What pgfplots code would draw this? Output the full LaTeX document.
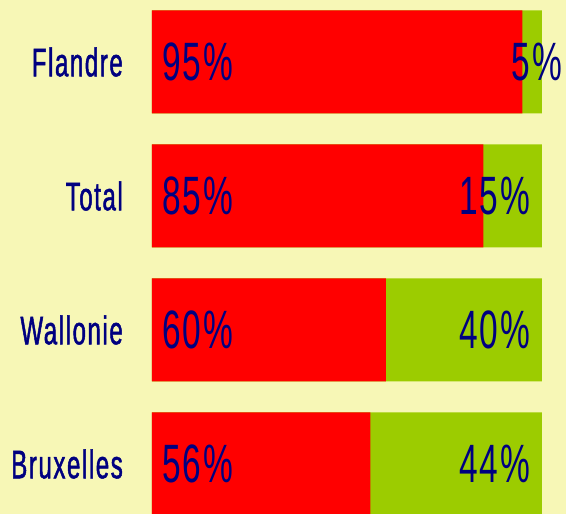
\documentclass[border=0pt]{standalone}
\usepackage{fontspec}
\setmainfont{Liberation Sans}[FakeStretch=0.62, LetterSpace=4]
\newfontfamily\catfont{Liberation Sans}[FakeStretch=0.6, FakeBold=1.2, LetterSpace=4]
\usepackage{pgfplots}
\pgfplotsset{compat=1.18}
\definecolor{bg}{HTML}{F7F7B6}
\definecolor{bred}{HTML}{FF0000}
\definecolor{bgreen}{HTML}{9CCC00}
\definecolor{navy}{HTML}{000080}
\begin{document}
\begin{tikzpicture}[x=1pt,y=1pt]
\fill[bg] (0,0) rectangle (566,514);
\useasboundingbox (0,0) rectangle (566,514);
\begin{axis}[
  at={(152pt,-17pt)}, anchor=south west,
  width=390pt, height=536pt, scale only axis,
  xmin=0, xmax=100, ymin=-0.5, ymax=3.5,
  axis line style={draw=none},
  tick style={draw=none},
  xtick=\empty, ytick={0,1,2,3},
  yticklabels={Bruxelles,Wallonie,Total,Flandre},
  major tick length=0pt,
  yticklabel style={font=\catfont\fontsize{40}{48}\selectfont, text=navy, anchor=east, inner sep=0pt, xshift=-29pt},
  clip=false,
  bar width=103pt,
]
\addplot[xbar, bar shift=0pt, fill=bgreen, draw=none] coordinates {(100,0) (100,1) (100,2) (100,3)};
\addplot[xbar, bar shift=0pt, fill=bred, draw=none] coordinates {(56,0) (60,1) (85,2) (95,3)};
\addplot[draw=none, mark=none, nodes near coords={\pgfplotspointmeta\%}, point meta=explicit symbolic,
  nodes near coords style={anchor=west, inner sep=0pt, text=navy, font=\fontsize{54}{60}\selectfont}]
  table[meta=lab] {
x y lab
2.56 0 56
2.56 1 60
2.56 2 85
2.56 3 95
};
\addplot[draw=none, mark=none, nodes near coords={\pgfplotspointmeta\%}, point meta=explicit symbolic,
  nodes near coords style={anchor=east, inner sep=0pt, text=navy, font=\fontsize{54}{60}\selectfont}]
  table[meta=lab] {
x y lab
97.1 0 44
97.1 1 40
97.1 2 15
105.3 3 5
};
\end{axis}
\end{tikzpicture}
\end{document}
